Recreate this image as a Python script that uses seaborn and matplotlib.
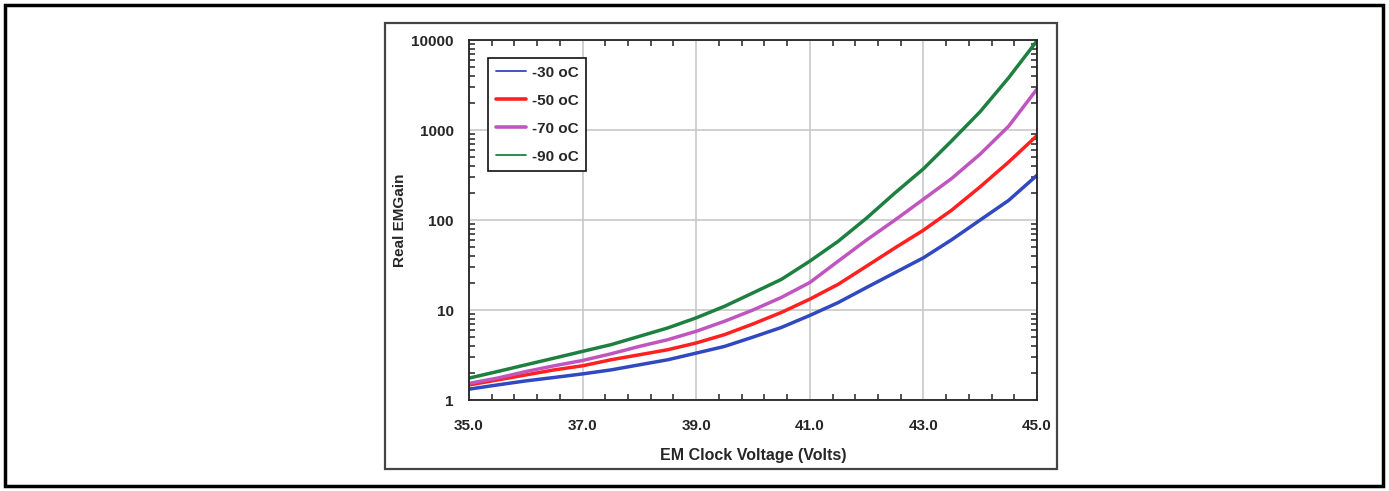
import numpy as np
import pandas as pd
import matplotlib.pyplot as plt
import seaborn as sns
from matplotlib.patches import Rectangle
from matplotlib.ticker import FixedLocator, LogLocator, NullFormatter

sns.set_style("white")
plt.rcParams['font.family'] = ['Liberation Sans', 'DejaVu Sans']

# data
voltage = [35.0, 35.5, 36.0, 36.5, 37.0, 37.5, 38.0, 38.5, 39.0, 39.5, 40.0,
           40.5, 41.0, 41.5, 42.0, 42.5, 43.0, 43.5, 44.0, 44.5, 45.0]
gain_m30 = [1.32, 1.47, 1.63, 1.78, 1.95, 2.16, 2.46, 2.80, 3.32, 3.94, 5.0,
            6.4, 8.7, 12.1, 17.8, 26.0, 38.0, 60.5, 100.0, 165.0, 314.0]
gain_m50 = [1.47, 1.67, 1.90, 2.16, 2.40, 2.80, 3.18, 3.62, 4.30, 5.33, 7.0,
            9.4, 13.2, 19.3, 30.7, 49.0, 77.0, 129.0, 234.0, 440.0, 867.0]
gain_m70 = [1.53, 1.75, 2.07, 2.40, 2.75, 3.26, 3.94, 4.68, 5.80, 7.50, 10.0,
            13.8, 20.2, 34.9, 60.0, 100.0, 170.0, 290.0, 540.0, 1100.0, 2850.0]
gain_m90 = [1.75, 2.07, 2.46, 2.92, 3.47, 4.12, 5.10, 6.32, 8.18, 11.0, 15.5,
            21.9, 34.9, 58.0, 105.0, 200.0, 370.0, 760.0, 1600.0, 3800.0, 9800.0]
series_labels = ['-30 oC', '-50 oC', '-70 oC', '-90 oC']
colors = ['#3048C0', '#FF2020', '#C055C0', '#1E8040']
legend_widths = [1.3, 2.6, 2.6, 1.3]

df = pd.concat([
    pd.DataFrame({'voltage': voltage, 'gain': g, 'series': lab})
    for g, lab in zip([gain_m30, gain_m50, gain_m70, gain_m90], series_labels)
], ignore_index=True)

fig = plt.figure(figsize=(13.89, 4.91), dpi=100)
ax = fig.add_axes([469 / 1389, 91 / 491, 568 / 1389, 360 / 491])

sns.lineplot(data=df, x='voltage', y='gain', hue='series', palette=colors,
             hue_order=series_labels, ax=ax, legend=False, linewidth=2.5)

ax.set_yscale('log')
ax.set_xlim(35, 45)
ax.set_ylim(1, 10000)
ax.set_xticks([35, 37, 39, 41, 43, 45])
ax.set_xticklabels(['35.0', '37.0', '39.0', '41.0', '43.0', '45.0'])
ax.xaxis.set_minor_locator(FixedLocator(np.arange(35, 45.01, 0.4)))
ax.set_yticks([1, 10, 100, 1000, 10000])
ax.set_yticklabels(['1', '10', '100', '1000', '10000'])
ax.yaxis.set_minor_locator(LogLocator(base=10, subs=np.arange(2, 10)))
ax.yaxis.set_minor_formatter(NullFormatter())

ax.grid(True, which='major', color='#c8c8c8', linewidth=1.2)
ax.tick_params(which='both', direction='in', top=True, right=True,
               left=True, bottom=True, labelsize=11)
ax.tick_params(axis='x', which='major', pad=14)
ax.tick_params(axis='y', which='major', pad=11)
ax.tick_params(which='major', length=0)
ax.tick_params(which='minor', length=4, width=1.2, color='#333333')
for lab in ax.get_xticklabels() + ax.get_yticklabels():
    lab.set_fontweight('bold')
for sp in ax.spines.values():
    sp.set_color('#222222')
    sp.set_linewidth(1.3)

ax.set_xlabel('EM Clock Voltage (Volts)', fontsize=11.5, fontweight='bold')
ax.set_ylabel('Real EMGain', fontsize=11, fontweight='bold')
ax.xaxis.set_label_coords(0.5, (400 - 448) / 360)
ax.yaxis.set_label_coords((407 - 469) / 568, 0.5)

handles = [plt.Line2D([], [], color=c, lw=w) for c, w in zip(colors, legend_widths)]
leg = ax.legend(handles, series_labels, loc='upper left',
                bbox_to_anchor=((488 - 469) / 568, (400 - 58) / 360), borderaxespad=0,
                frameon=True, fancybox=False, edgecolor='#111111', framealpha=1,
                prop={'weight': 'bold', 'size': 11}, handlelength=2.0,
                labelspacing=0.92, borderpad=0.5, handletextpad=0.35)
leg.get_frame().set_linewidth(1.2)

# inner and outer frames
fig.patches.append(Rectangle((385 / 1389, (491 - 469) / 491), (1057 - 385) / 1389, (469 - 23) / 491,
                             transform=fig.transFigure, fill=False, edgecolor='#444444',
                             linewidth=1.6, zorder=0))
fig.patches.append(Rectangle((5 / 1389, 5 / 491), (1383 - 5) / 1389, (486 - 5) / 491,
                             transform=fig.transFigure, fill=False, edgecolor='black',
                             linewidth=2.5, zorder=0))

fig.savefig('out.png', dpi=100)
